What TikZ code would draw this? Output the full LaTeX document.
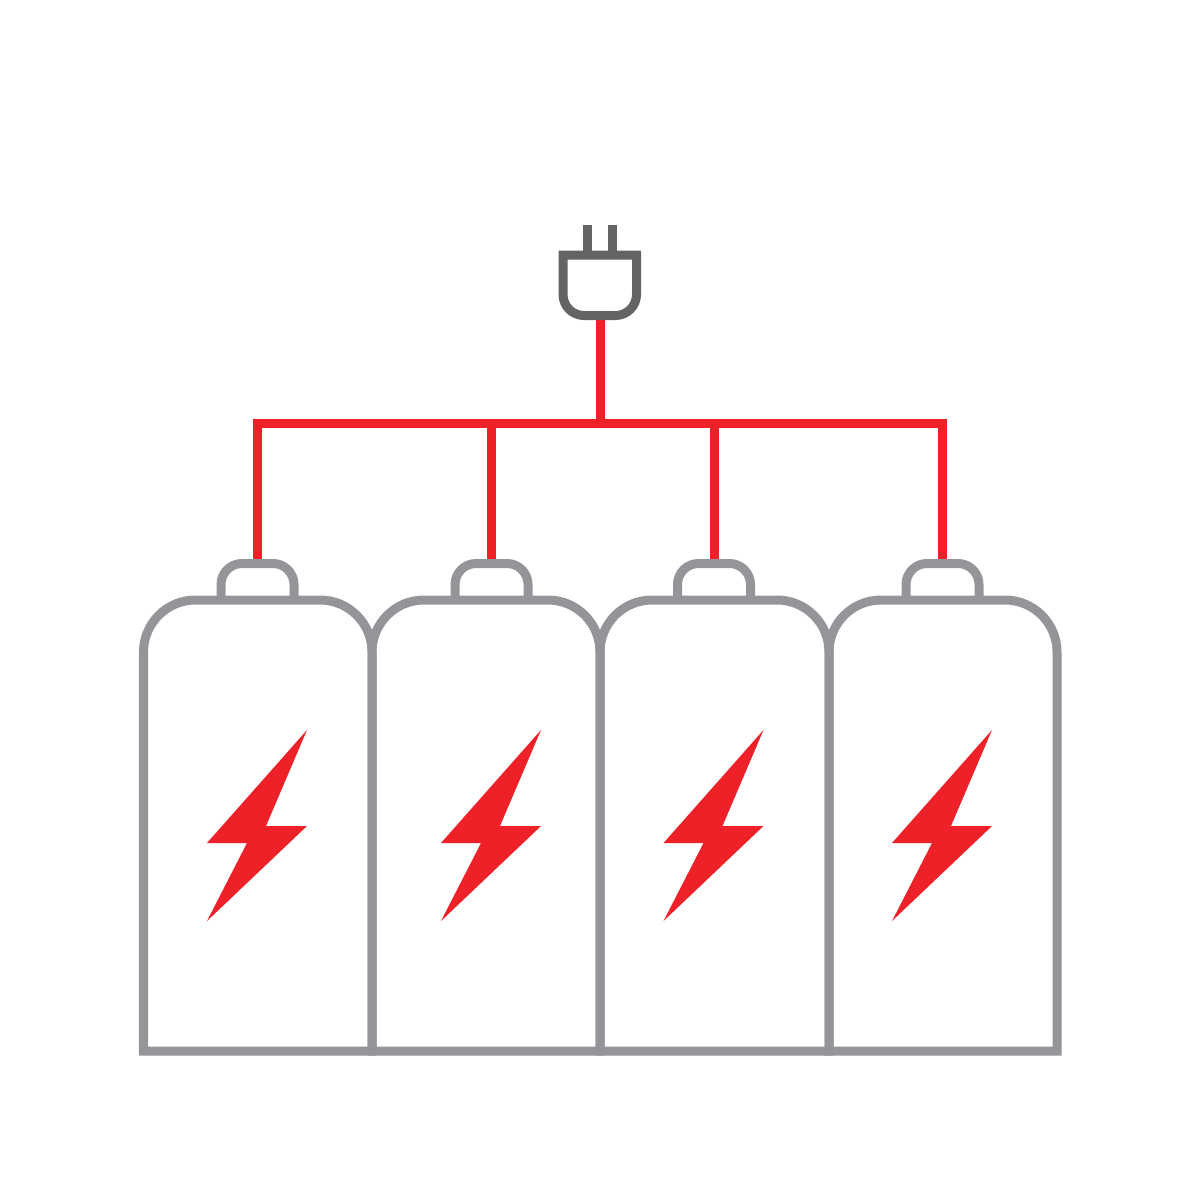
\documentclass[tikz,border=0pt]{standalone}
\usepackage{xcolor}
\usepackage{tikz}
\usetikzlibrary{positioning}

\definecolor{cellgray}{HTML}{939598}
\definecolor{pluggray}{HTML}{636466}
\definecolor{wirered}{HTML}{EE2028}

\tikzset{
  cell/.style={draw=cellgray, line width=0.09cm, miter limit=10},
  plugline/.style={draw=pluggray, line width=0.09cm},
  wire/.style={draw=wirered, line width=0.09cm},
  bolt/.style={fill=wirered, draw=none},
  port/.style={coordinate}
}

\begin{document}
\begin{tikzpicture}[x=0.01cm, y=-0.01cm]
\useasboundingbox (0,0) rectangle (1200,1200);

\node (plug) [port] at (600,318) {};
\node (bus) [port] at (600,423) {};
\node (port1) [port] at (257.5,562) {};
\node (port2) [port] at (491.5,562) {};
\node (port3) [port] at (714,562) {};
\node (port4) [port] at (942.5,562) {};

% wires
\draw[wire] (port1) |- (port4 |- bus) -- (port4);
\draw[wire] (port2) -- (port2 |- bus);
\draw[wire] (port3) -- (port3 |- bus);
\draw[wire] (plug) -- (bus);

% batteries
\foreach \n/\l/\r/\c in {1/143.5/372/257.5, 2/372/600/491.5, 3/600/829/714, 4/829/1057/942.5}{
  \draw[cell] (\l,1051) [rounded corners=0.52cm] -- (\l,600) -- (\r,600) [sharp corners] -- (\r,1051) -- cycle;
  \draw[cell, rounded corners=0.21cm] (\c-36.5,600) -- (\c-36.5,563.5) -- (\c+36.5,563.5) [sharp corners] -- (\c+36.5,600);
  \fill[bolt] (\c+49.5,730) -- (\c+8.5,826) -- (\c+49.5,826) -- (\c-50.5,921) -- (\c-10.5,843) -- (\c-50.5,843) -- cycle;
}

% plug
\draw[plugline] (587,225) -- (587,255);
\draw[plugline] (612.5,225) -- (612.5,255);
\draw[plugline] (563,255) -- (636.5,255) [rounded corners=0.21cm] -- (636.5,315.5) -- (563,315.5) [sharp corners] -- cycle;
\end{tikzpicture}
\end{document}
